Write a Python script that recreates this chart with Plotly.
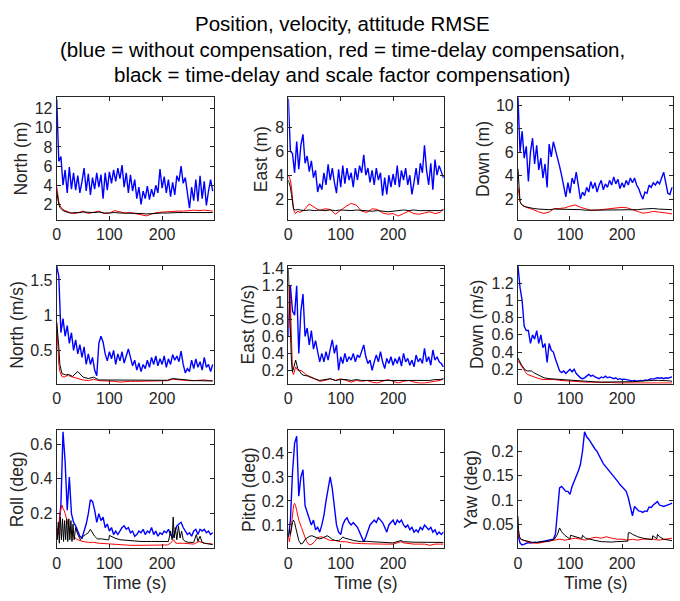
import plotly.graph_objects as go

# ---------------- data ----------------
T4 = list(range(0, 300, 4))  # sampling grid of the blue curves (s)
TC = [0, 2, 4, 6, 8, 10, 14, 18, 22, 26, 30, 40, 50, 60, 70, 80, 90, 100, 110, 120,
      130, 140, 150, 160, 170, 180, 190, 200, 210, 220, 230, 240, 250, 260, 270, 280, 290, 296]

north_m_blue = [13.0, 6.5, 7.0, 4.0, 5.6, 3.2, 5.9, 3.6, 5.3, 3.5,
                5.0, 3.2, 4.4, 5.8, 3.4, 5.2, 3.0, 4.8, 3.6, 5.3,
                3.8, 5.1, 2.6, 5.3, 3.5, 5.4, 4.2, 5.6, 4.4, 5.8,
                4.7, 6.1, 3.8, 5.3, 3.2, 5.1, 3.4, 4.6, 2.6, 3.8,
                2.0, 3.4, 2.6, 3.9, 2.5, 3.6, 2.8, 4.0, 3.2, 5.7,
                3.7, 4.9, 3.2, 4.6, 2.8, 4.3, 3.0, 5.0, 4.4, 6.0,
                4.2, 4.8, 3.2, 1.6, 3.8, 2.4, 4.6, 2.3, 5.0, 2.6,
                4.4, 1.9, 3.4, 4.6, 3.4]
north_m_red = [3.9, 3.0, 2.3, 1.9, 1.7, 1.55, 1.4, 1.3, 1.2, 1.1, 1.05, 1.1, 1.3, 1.05, 1.2, 1.3,
               1.05, 1.1, 1.35, 1.2, 1.1, 1.15, 1.05, 0.95, 0.8, 1.0, 1.15, 1.2, 1.25, 1.3, 1.3,
               1.3, 1.35, 1.4, 1.35, 1.4, 1.35, 1.3]
north_m_black = [3.3, 2.6, 2.0, 1.7, 1.55, 1.45, 1.3, 1.2, 1.15, 1.1, 1.1, 1.15, 1.2, 1.15, 1.15,
                 1.2, 1.1, 1.1, 1.15, 1.1, 1.1, 1.1, 1.05, 1.05, 1.0, 1.05, 1.05, 1.1, 1.1, 1.15,
                 1.15, 1.15, 1.15, 1.1, 1.1, 1.1, 1.15, 1.15]

east_m_blue = [10.4, 6.0, 5.8, 4.2, 6.8, 4.5, 6.5, 7.4, 5.0, 5.6,
               4.3, 5.2, 3.8, 4.4, 2.6, 3.3, 2.8, 4.2, 3.2, 4.9,
               3.6, 4.6, 3.4, 2.5, 4.5, 3.0, 4.8, 3.3, 4.6, 3.6,
               4.2, 3.0, 4.6, 3.6, 4.8, 4.2, 5.7, 4.0, 4.6, 3.4,
               4.4, 3.2, 4.6, 3.6, 4.2, 2.3, 3.8, 2.4, 4.0, 3.0,
               4.1, 3.2, 4.8, 3.0, 4.4, 3.6, 4.6, 3.2, 4.0, 2.4,
               3.4, 4.6, 3.2, 5.0, 4.2, 6.5, 4.4, 3.2, 5.0, 2.8,
               5.3, 4.0, 4.8, 4.2, 3.8]
east_m_red = [4.0, 3.8, 3.6, 3.0, 1.8, 1.1, 0.8, 1.0, 0.9, 1.0, 1.1, 1.6, 1.3, 1.05, 1.2, 1.15,
              0.75, 1.1, 1.4, 1.65, 1.5, 1.0, 0.9, 1.2, 1.15, 0.85, 0.75, 0.8, 0.6, 0.8, 1.0,
              0.8, 0.75, 0.85, 0.95, 0.8, 0.9, 1.2]
east_m_black = [3.6, 3.3, 3.0, 2.4, 1.6, 1.2, 1.1, 1.15, 1.1, 1.05, 1.05, 1.1, 1.05, 1.1, 1.05,
                1.1, 1.05, 1.1, 1.05, 1.05, 1.1, 1.05, 1.05, 1.0, 1.05, 1.0, 0.95, 1.0, 1.05, 1.1,
                1.05, 1.1, 1.05, 1.05, 1.0, 1.0, 1.05, 1.1]

down_m_blue = [10.7, 6.0, 7.8, 5.5, 6.5, 3.5, 6.0, 7.2, 5.0, 6.6,
               4.5, 5.5, 3.8, 5.0, 3.0, 6.7, 5.6, 6.9, 6.2, 5.6,
               4.8, 4.0, 3.0, 2.2, 3.4, 2.5, 3.8, 3.3, 4.3, 3.0,
               2.0, 2.6, 2.3, 3.0, 2.6, 3.5, 2.9, 3.4, 2.6, 3.2,
               3.6, 2.8, 3.3, 3.0, 3.6, 3.2, 3.9, 3.3, 3.7, 2.9,
               3.4, 3.0, 3.6, 3.2, 3.8, 3.4, 3.8, 3.2, 2.9, 2.4,
               2.0, 2.6, 2.5, 3.2, 3.0, 3.4, 3.2, 3.5, 3.3, 3.8,
               4.3, 3.4, 2.5, 2.4, 3.0]
down_m_red = [3.0, 2.3, 1.8, 1.6, 1.5, 1.4, 1.35, 1.25, 1.2, 1.15, 1.1, 0.9, 0.78, 0.9, 1.2, 1.2,
              1.25, 1.4, 1.5, 1.3, 1.15, 1.05, 1.05, 1.1, 1.15, 1.2, 1.25, 1.3, 1.25, 1.1, 0.95,
              0.8, 0.85, 0.95, 0.9, 0.85, 0.78, 0.75]
down_m_black = [4.6, 2.5, 1.8, 1.6, 1.5, 1.45, 1.35, 1.3, 1.25, 1.2, 1.2, 1.15, 1.1, 1.1, 1.15,
                1.15, 1.15, 1.15, 1.15, 1.1, 1.05, 1.05, 1.05, 1.05, 1.05, 1.05, 1.05, 1.05, 1.05,
                1.1, 1.1, 1.15, 1.2, 1.2, 1.15, 1.15, 1.1, 1.1]

north_v_blue = [1.7, 1.55, 0.75, 0.95, 0.7, 0.85, 0.6, 0.75, 0.5, 0.65,
                0.45, 0.58, 0.4, 0.55, 0.3, 0.45, 0.3, 0.4, 0.22, 0.14,
                0.6, 0.7, 0.62, 0.45, 0.35, 0.48, 0.38, 0.5, 0.3, 0.45,
                0.35, 0.48, 0.32, 0.44, 0.52, 0.4, 0.28, 0.36, 0.22, 0.32,
                0.2, 0.3, 0.24, 0.36, 0.26, 0.4, 0.3, 0.42, 0.28, 0.38,
                0.3, 0.42, 0.26, 0.38, 0.3, 0.44, 0.36, 0.42, 0.34, 0.49,
                0.3, 0.18, 0.24, 0.2, 0.36, 0.24, 0.38, 0.26, 0.34, 0.22,
                0.4, 0.26, 0.3, 0.2, 0.3]
north_v_red = [0.9, 0.5, 0.3, 0.2, 0.15, 0.13, 0.12, 0.14, 0.15, 0.13, 0.12, 0.1, 0.08, 0.07, 0.09,
               0.07, 0.07, 0.06, 0.06, 0.05, 0.06, 0.06, 0.06, 0.06, 0.06, 0.06, 0.06, 0.06, 0.07,
               0.09, 0.08, 0.07, 0.07, 0.07, 0.08, 0.08, 0.07, 0.07]
north_v_black = [0.9, 0.75, 0.55, 0.3, 0.2, 0.17, 0.16, 0.15, 0.16, 0.15, 0.13, 0.2, 0.12, 0.1,
                 0.12, 0.08, 0.08, 0.075, 0.07, 0.07, 0.07, 0.07, 0.07, 0.07, 0.07, 0.07, 0.07,
                 0.07, 0.075, 0.1, 0.09, 0.08, 0.075, 0.07, 0.07, 0.07, 0.065, 0.065]

east_v_blue = [0.6, 1.2, 0.9, 0.85, 1.2, 0.4, 0.9, 1.1, 0.6, 0.7,
               0.5, 0.67, 0.45, 0.55, 0.42, 0.3, 0.4, 0.3, 0.42, 0.32,
               0.45, 0.56, 0.4, 0.5, 0.2, 0.36, 0.28, 0.4, 0.3, 0.36,
               0.32, 0.4, 0.3, 0.38, 0.35, 0.42, 0.5, 0.36, 0.28, 0.32,
               0.2, 0.3, 0.38, 0.3, 0.42, 0.3, 0.22, 0.34, 0.28, 0.36,
               0.26, 0.34, 0.28, 0.36, 0.25, 0.4, 0.3, 0.34, 0.26, 0.32,
               0.24, 0.38, 0.3, 0.34, 0.28, 0.46, 0.3, 0.36, 0.26, 0.44,
               0.32, 0.36, 0.3, 0.28, 0.24]
east_v_red = [0.7, 1.2, 1.0, 0.5, 0.18, 0.15, 0.24, 0.2, 0.2, 0.19, 0.17, 0.12, 0.1, 0.07, 0.08,
              0.1, 0.08, 0.1, 0.08, 0.06, 0.08, 0.07, 0.08, 0.06, 0.05, 0.07, 0.09, 0.07, 0.05,
              0.07, 0.08, 0.06, 0.05, 0.05, 0.06, 0.07, 0.08, 0.1]
east_v_black = [1.4, 1.0, 0.6, 0.3, 0.18, 0.22, 0.32, 0.22, 0.18, 0.15, 0.14, 0.13, 0.1, 0.08,
                0.09, 0.1, 0.08, 0.09, 0.09, 0.08, 0.09, 0.08, 0.08, 0.08, 0.08, 0.08, 0.08, 0.08,
                0.08, 0.08, 0.08, 0.08, 0.08, 0.08, 0.08, 0.09, 0.09, 0.1]

down_v_blue = [1.4, 1.15, 1.0, 0.7, 0.65, 0.65, 0.5, 0.6, 0.55, 0.65,
               0.5, 0.6, 0.45, 0.5, 0.28, 0.5, 0.42, 0.4, 0.32, 0.25,
               0.18, 0.16, 0.18, 0.15, 0.18, 0.2, 0.17, 0.2, 0.15, 0.12,
               0.1, 0.09, 0.1, 0.12, 0.14, 0.12, 0.13, 0.11, 0.1, 0.09,
               0.11, 0.1, 0.12, 0.1, 0.11, 0.1, 0.09, 0.1, 0.08, 0.09,
               0.08, 0.085, 0.08, 0.075, 0.07, 0.065, 0.07, 0.06, 0.065, 0.07,
               0.065, 0.075, 0.07, 0.08, 0.09, 0.085, 0.09, 0.1, 0.095, 0.1,
               0.09, 0.1, 0.095, 0.1, 0.11]
down_v_red = [0.3, 0.28, 0.26, 0.24, 0.22, 0.2, 0.17, 0.14, 0.13, 0.12, 0.11, 0.09, 0.08, 0.08,
              0.08, 0.07, 0.065, 0.06, 0.055, 0.05, 0.05, 0.05, 0.05, 0.05, 0.045, 0.045, 0.04,
              0.04, 0.04, 0.04, 0.04, 0.04, 0.04, 0.04, 0.04, 0.04, 0.04, 0.04]
down_v_black = [0.33, 0.3, 0.28, 0.26, 0.24, 0.22, 0.19, 0.18, 0.18, 0.18, 0.16, 0.13, 0.1, 0.09,
                0.085, 0.08, 0.075, 0.07, 0.065, 0.06, 0.058, 0.055, 0.052, 0.05, 0.05, 0.05, 0.05,
                0.05, 0.05, 0.055, 0.06, 0.065, 0.065, 0.07, 0.07, 0.07, 0.065, 0.06]

roll_blue = [0.1, 0.12, 0.25, 0.67, 0.5, 0.22, 0.41, 0.2, 0.15, 0.13,
             0.1, 0.07, 0.06, 0.1, 0.14, 0.2, 0.28, 0.27, 0.22, 0.15,
             0.2, 0.16, 0.18, 0.12, 0.14, 0.1, 0.12, 0.08, 0.1, 0.08,
             0.1, 0.12, 0.13, 0.11, 0.12, 0.09, 0.1, 0.07, 0.08, 0.1,
             0.09, 0.11, 0.08, 0.1, 0.09, 0.12, 0.08, 0.1, 0.07, 0.09,
             0.08, 0.1, 0.09, 0.11, 0.08, 0.06, 0.09, 0.13, 0.14, 0.15,
             0.12, 0.1, 0.08, 0.09, 0.07, 0.1, 0.11, 0.08, 0.11, 0.1,
             0.11, 0.09, 0.1, 0.08, 0.09]
roll_red_t = [0, 4, 6, 8, 10, 12, 14, 16, 20, 25, 30, 35, 40, 50, 60, 70, 80, 100, 120, 140,
              160, 180, 200, 210, 216, 222, 226, 240, 260, 270, 280, 296]
roll_red = [0.12, 0.08, 0.2, 0.23, 0.25, 0.23, 0.22, 0.2, 0.15, 0.1, 0.08, 0.06, 0.05, 0.04,
            0.035, 0.035, 0.03, 0.025, 0.02, 0.018, 0.018, 0.018, 0.018, 0.02, 0.03, 0.05, 0.03,
            0.03, 0.025, 0.04, 0.03, 0.025]
roll_black_t = [0, 1, 3, 5, 7, 9, 11, 13, 15, 17, 19, 21, 23, 25, 27, 29, 31, 33, 36, 40,
                45, 50, 55, 60, 64, 68, 72, 77, 85, 95, 99, 100, 110, 120, 140, 160, 180, 200, 212, 216,
                219, 221, 223, 225, 228, 231, 234, 237, 240, 244, 250, 260, 265, 268, 272, 276, 280, 290, 296]
roll_black = [0.1, 0.05, 0.15, 0.03, 0.18, 0.05, 0.17, 0.04, 0.16, 0.05,
              0.17, 0.04, 0.17, 0.05, 0.16, 0.04, 0.14, 0.05, 0.12, 0.08,
              0.05, 0.07, 0.08, 0.09, 0.11, 0.09, 0.07, 0.055, 0.055, 0.05,
              0.05, 0.075, 0.06, 0.05, 0.045, 0.04, 0.04, 0.04, 0.04, 0.1,
              0.05, 0.18, 0.06, 0.12, 0.05, 0.13, 0.06, 0.1, 0.05, 0.04,
              0.035, 0.035, 0.08, 0.04, 0.07, 0.035, 0.03, 0.025, 0.022]

pitch_blue = [0.05, 0.12, 0.32, 0.44, 0.47, 0.22, 0.3, 0.33, 0.18, 0.15,
              0.12, 0.1, 0.12, 0.08, 0.09, 0.07, 0.1, 0.14, 0.2, 0.26,
              0.3, 0.25, 0.17, 0.1, 0.07, 0.06, 0.1, 0.12, 0.13, 0.11,
              0.1, 0.11, 0.1, 0.09, 0.07, 0.05, 0.03, 0.05, 0.08, 0.1,
              0.11, 0.12, 0.11, 0.13, 0.12, 0.11, 0.09, 0.07, 0.1, 0.11,
              0.12, 0.1, 0.12, 0.11, 0.12, 0.1, 0.09, 0.1, 0.08, 0.09,
              0.07, 0.08, 0.07, 0.09, 0.08, 0.1, 0.09, 0.08, 0.09, 0.07,
              0.08, 0.06, 0.07, 0.06, 0.07]
pitch_red_t = [0, 2, 4, 6, 8, 10, 12, 14, 16, 18, 20, 25, 30, 35, 40, 45, 50, 55, 60, 65,
               70, 75, 80, 90, 100, 110, 120, 140, 160, 180, 200, 210, 215, 220, 240, 260, 270, 280, 296]
pitch_red = [0.05, 0.03, 0.06, 0.1, 0.15, 0.18, 0.19, 0.18, 0.16, 0.14,
             0.12, 0.09, 0.06, 0.03, 0.017, 0.02, 0.03, 0.045, 0.05, 0.05,
             0.045, 0.04, 0.035, 0.035, 0.03, 0.03, 0.025, 0.022, 0.02, 0.02,
             0.02, 0.025, 0.03, 0.025, 0.02, 0.02, 0.015, 0.02, 0.02]
pitch_black_t = [0, 2, 4, 6, 8, 10, 12, 14, 16, 18, 20, 24, 28, 32, 36, 40, 45, 50, 55, 60,
                 65, 70, 74, 78, 84, 90, 96, 100, 104, 108, 115, 125, 140, 150, 160, 180, 200, 215, 220, 240,
                 260, 280, 296]
pitch_black = [0.05, 0.08, 0.06, 0.09, 0.11, 0.12, 0.11, 0.09, 0.07, 0.05,
               0.035, 0.02, 0.025, 0.04, 0.048, 0.052, 0.055, 0.05, 0.045, 0.042,
               0.045, 0.05, 0.055, 0.05, 0.04, 0.035, 0.035, 0.04, 0.05, 0.045,
               0.04, 0.035, 0.03, 0.032, 0.03, 0.028, 0.025, 0.035, 0.03, 0.028,
               0.027, 0.027, 0.027]

yaw_blue = [0.03, 0.012, 0.008, 0.01, 0.012, 0.013, 0.012, 0.013, 0.014, 0.013,
            0.014, 0.015, 0.016, 0.017, 0.018, 0.018, 0.019, 0.02, 0.03, 0.075,
            0.125, 0.128, 0.122, 0.118, 0.118, 0.112, 0.128, 0.138, 0.148, 0.16,
            0.173, 0.2, 0.24, 0.23, 0.225, 0.218, 0.212, 0.205, 0.2, 0.19,
            0.183, 0.175, 0.17, 0.163, 0.158, 0.153, 0.149, 0.143, 0.138, 0.132,
            0.127, 0.124, 0.118, 0.105, 0.085, 0.068, 0.087, 0.082, 0.078, 0.077,
            0.075, 0.078, 0.077, 0.086, 0.085, 0.09, 0.093, 0.097, 0.09, 0.088,
            0.087, 0.089, 0.09, 0.092, 0.094]
yaw_red_t = [0, 2, 5, 10, 20, 30, 40, 50, 60, 70, 80, 90, 100, 110, 120, 130, 140, 150, 160, 170,
             180, 190, 200, 210, 220, 230, 240, 250, 260, 270, 280, 296]
yaw_red = [0.04, 0.025, 0.02, 0.018, 0.014, 0.012, 0.012, 0.014, 0.016, 0.018, 0.02, 0.018, 0.02,
           0.022, 0.02, 0.018, 0.022, 0.024, 0.022, 0.025, 0.022, 0.02, 0.02, 0.018, 0.02, 0.018,
           0.02, 0.02, 0.02, 0.018, 0.02, 0.022]
yaw_black_t = [0, 1, 3, 6, 10, 20, 30, 40, 50, 60, 70, 76, 80, 84, 90, 96, 100, 101, 104, 110,
               120, 123, 124, 130, 140, 150, 160, 170, 180, 190, 200, 211, 212, 216, 220, 230, 240, 250, 258, 259,
               264, 267, 268, 272, 280, 290, 296]
yaw_black = [0.067, 0.04, 0.025, 0.02, 0.018, 0.015, 0.013, 0.014, 0.015, 0.016,
             0.02, 0.03, 0.043, 0.035, 0.028, 0.022, 0.02, 0.028, 0.027, 0.024,
             0.022, 0.022, 0.028, 0.022, 0.019, 0.017, 0.015, 0.014, 0.014, 0.015,
             0.016, 0.016, 0.033, 0.033, 0.03, 0.025, 0.022, 0.02, 0.019, 0.027,
             0.022, 0.021, 0.03, 0.025, 0.02, 0.018, 0.017]

y_labels = ["North (m)", "East (m)", "Down (m)",
            "North (m/s)", "East (m/s)", "Down (m/s)",
            "Roll (deg)", "Pitch (deg)", "Yaw (deg)"]
x_ticks = [0, 100, 200]
y_ticks = [[2, 4, 6, 8, 10, 12], [2, 4, 6, 8], [2, 4, 6, 8, 10],
           [0.5, 1, 1.5], [0.2, 0.4, 0.6, 0.8, 1, 1.2, 1.4], [0.2, 0.4, 0.6, 0.8, 1, 1.2],
           [0.2, 0.4, 0.6], [0.1, 0.2, 0.3, 0.4], [0.05, 0.1, 0.15, 0.2]]
y_tick_text = [["2", "4", "6", "8", "10", "12"], ["2", "4", "6", "8"], ["2", "4", "6", "8", "10"],
               ["0.5", "1", "1.5"], ["0.2", "0.4", "0.6", "0.8", "1", "1.2", "1.4"],
               ["0.2", "0.4", "0.6", "0.8", "1", "1.2"],
               ["0.2", "0.4", "0.6"], ["0.1", "0.2", "0.3", "0.4"], ["0.05", "0.1", "0.15", "0.2"]]

series = [
    (north_m_blue, TC, north_m_red, TC, north_m_black),
    (east_m_blue, TC, east_m_red, TC, east_m_black),
    (down_m_blue, TC, down_m_red, TC, down_m_black),
    (north_v_blue, TC, north_v_red, TC, north_v_black),
    (east_v_blue, TC, east_v_red, TC, east_v_black),
    (down_v_blue, TC, down_v_red, TC, down_v_black),
    (roll_blue, roll_red_t, roll_red, roll_black_t, roll_black),
    (pitch_blue, pitch_red_t, pitch_red, pitch_black_t, pitch_black),
    (yaw_blue, yaw_red_t, yaw_red, yaw_black_t, yaw_black),
]

# ---------------- layout (pixels) ----------------
W, H = 680, 601
col_px = [(53, 211), (286, 443), (517, 673)]
row_px = [(93, 217), (263, 382), (429, 548)]
y_ranges = [[0.35, 13.2], [0.25, 10.5], [0.2, 10.7],
            [0.025, 1.7], [0.04, 1.435], [0.03, 1.404],
            [0.0, 0.678], [0.002, 0.494], [0.001, 0.243]]
ylab_x = [17, 258, 482, 13, 245, 476, 14, 247, 470]

AX = "#262626"
FONT = "Arial, 'Liberation Sans', Helvetica, sans-serif"

fig = go.Figure()
annotations = []
for i in range(9):
    r, c = divmod(i, 3)
    k = "" if i == 0 else str(i + 1)
    blue, tr, red, tb, black = series[i]
    fig.add_trace(go.Scatter(x=T4, y=blue, mode="lines", line=dict(color="#0000FF", width=1.4),
                             xaxis="x" + k, yaxis="y" + k, showlegend=False))
    fig.add_trace(go.Scatter(x=tr, y=red, mode="lines", line=dict(color="#FF0000", width=1.0),
                             xaxis="x" + k, yaxis="y" + k, showlegend=False))
    fig.add_trace(go.Scatter(x=tb, y=black, mode="lines", line=dict(color="#000000", width=1.0),
                             xaxis="x" + k, yaxis="y" + k, showlegend=False))
    x0, x1 = col_px[c]
    y0, y1 = row_px[r]
    common = dict(showline=True, linecolor=AX, linewidth=1, mirror="allticks",
                  ticks="inside", ticklen=4, tickcolor=AX, tickwidth=1,
                  showgrid=False, zeroline=False,
                  tickfont=dict(family=FONT, size=16, color=AX))
    fig.layout["xaxis" + k] = dict(domain=[x0 / W, x1 / W], range=[0, 298],
                                   anchor="y" + k, tickmode="array", tickvals=x_ticks, **common)
    fig.layout["yaxis" + k] = dict(domain=[1 - y1 / H, 1 - y0 / H], range=y_ranges[i],
                                   anchor="x" + k, tickmode="array", tickvals=y_ticks[i],
                                   ticktext=y_tick_text[i], **common)
    annotations.append(dict(text=y_labels[i], textangle=-90, x=ylab_x[i] / W,
                            y=1 - ((y0 + y1) / 2) / H, xref="paper", yref="paper",
                            xanchor="center", yanchor="middle", showarrow=False,
                            font=dict(family=FONT, size=17.5, color=AX)))
    if r == 2:
        annotations.append(dict(text="Time (s)", x=((x0 + x1) / 2) / W, y=1 - 583 / H,
                                xref="paper", yref="paper", xanchor="center", yanchor="middle",
                                showarrow=False, font=dict(family=FONT, size=17.5, color=AX)))

title_lines = ["Position, velocity, attitude RMSE",
               "(blue = without compensation, red = time-delay compensation,",
               "black = time-delay and scale factor compensation)"]
for line, yc in zip(title_lines, [19, 45, 70]):
    annotations.append(dict(text=line, x=0.5, y=1 - yc / H, xref="paper", yref="paper",
                            xanchor="center", yanchor="middle", showarrow=False,
                            font=dict(family=FONT, size=20.5, color="#000000")))

fig.update_layout(width=W, height=H, margin=dict(l=0, r=0, t=0, b=0),
                  paper_bgcolor="white", plot_bgcolor="white",
                  annotations=annotations, showlegend=False)

fig.write_html("out.html", config={"displayModeBar": False},
               post_script="document.body.style.margin='0';document.body.style.overflow='hidden';")
